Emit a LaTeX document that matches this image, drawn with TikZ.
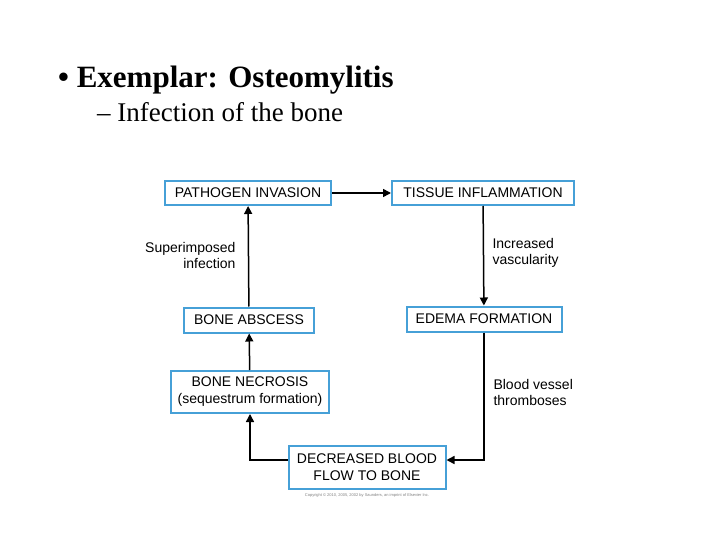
\documentclass[tikz,border=0pt]{standalone}
\usepackage{fontspec}
\setmainfont{Liberation Serif}
\newfontfamily\dsans{Liberation Sans}
\usetikzlibrary{arrows.meta}
\definecolor{boxblue}{RGB}{70,160,215}
\begin{document}
\begin{tikzpicture}[x=1pt,y=-1pt,
  bx/.style={draw=boxblue,line width=2pt,font=\dsans\fontsize{14}{17}\selectfont,align=center,inner sep=0pt},
  lab/.style={font=\dsans\fontsize{14}{16}\selectfont},
  arr/.style={line width=1.5pt,-{Triangle[length=8pt,width=8pt]}}]
\useasboundingbox (0,0) rectangle (720,540);
\node[anchor=base west,font=\bfseries\fontsize{31}{34}\selectfont,inner sep=0pt] (title) at (58,88) {\textbullet\ Exemplar: Osteomylitis};
\node[anchor=base west,font=\fontsize{27}{30}\selectfont,inner sep=0pt] (sub) at (97,122) {– Infection of the bone};
\node[bx,minimum width=166,minimum height=24] (pi) at (248,193) {PATHOGEN INVASION};
\node[bx,minimum width=182,minimum height=24] (ti) at (483,193) {TISSUE INFLAMMATION};
\node[bx,minimum width=155,minimum height=25] (ef) at (484,319) {EDEMA FORMATION};
\node[bx,minimum width=130,minimum height=25] (ba) at (249,320) {BONE ABSCESS};
\node[bx,minimum width=158,minimum height=42] (bn) at (250,392) {BONE NECROSIS\\(sequestrum formation)};
\node[bx,minimum width=157,minimum height=43] (db) at (367,467) {DECREASED BLOOD\\FLOW TO BONE};
\node[font=\dsans\fontsize{4}{5}\selectfont,text=gray] (cp) at (367,495) {Copyright \copyright\ 2010, 2005, 2002 by Saunders, an imprint of Elsevier Inc.};
\coordinate (c1) at (250,460);
\coordinate (c2) at (484,460);
\draw[arr] (pi) -- (ti);
\draw[arr] (ti) -- (ef);
\draw[arr] (ef.south) -- (c2) -- (db.east |- c2);
\draw[arr] (db.west |- c1) -- (c1) -- (bn);
\draw[arr] (bn) -- (ba);
\draw[arr] (ba) -- (pi);
\node[lab,align=right,anchor=east] (l1) at (239,255) {Superimposed\\infection};
\node[lab,align=left,anchor=west] (l2) at (489,253) {Increased\\vascularity};
\node[lab,align=left,anchor=west] (l3) at (490,392) {Blood vessel\\thromboses};
\end{tikzpicture}
\end{document}
